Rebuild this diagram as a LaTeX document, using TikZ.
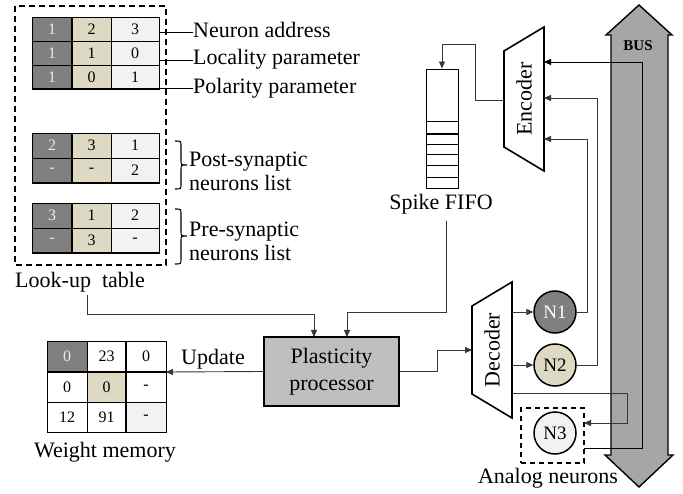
\documentclass[tikz,border=0pt]{standalone}
\usepackage{fontspec}
\setmainfont{Liberation Serif}
\usetikzlibrary{arrows.meta}
\definecolor{cdark}{RGB}{127,127,127}
\definecolor{cbeige}{RGB}{221,217,195}
\definecolor{clight}{RGB}{242,242,242}
\definecolor{cproc}{RGB}{191,191,191}
\definecolor{cbus}{RGB}{166,166,166}
\definecolor{cwire}{RGB}{55,55,55}
\definecolor{cpale}{RGB}{235,235,235}
\begin{document}
\begin{tikzpicture}[x=1pt,y=-1pt,
  lbl/.style={font=\fontsize{22}{25}\selectfont, inner sep=0pt, align=center},
  lbll/.style={font=\fontsize{22}{24}\selectfont, inner sep=0pt, align=left, anchor=west},
  num/.style={font=\fontsize{16}{18}\selectfont, inner sep=0pt},
  numw/.style={num, text=cpale},
  grid/.style={draw=black, line width=0.7pt},
  bold/.style={draw=black, line width=1.6pt},
  wire/.style={draw=cwire, line width=0.9pt},
  arr/.style={wire, -{Triangle[length=7pt,width=6pt]}},
  neuron/.style={circle, draw=black, line width=1.5pt, minimum size=42pt, inner sep=0pt, font=\fontsize{19}{20}\selectfont},
  dashbox/.style={draw=black, line width=1.5pt, dash pattern=on 6pt off 4pt}
]
\useasboundingbox (0,0) rectangle (683,494);

% ---------------- Look-up table ----------------
\draw[dashbox] (15,6) rectangle (166,265);
% table 1
\fill[cdark] (32,17) rectangle (72,89);
\fill[cbeige] (72,17) rectangle (111,89);
\fill[clight] (111,17) rectangle (159,89);
\draw[grid] (32,17) rectangle (159,89);
\draw[grid] (32,41) -- (159,41) (32,65) -- (159,65) (111,17) -- (111,89);
\draw[bold] (72,17) -- (72,89) (32,89) -- (159,89);
\foreach \y/\a/\b/\c/\n in {29/1/2/3/a, 53/1/1/0/b, 77/1/0/1/c}{
  \node[numw] (ta\n) at (52,\y) {\a};
  \node[num] (tb\n) at (91.5,\y) {\b};
  \node[num] (tc\n) at (135,\y) {\c};
}
% table 2
\fill[cdark] (32,133) rectangle (72,183);
\fill[cbeige] (72,133) rectangle (111,183);
\fill[clight] (111,133) rectangle (159,183);
\draw[grid] (32,133) rectangle (159,183);
\draw[grid] (32,158) -- (159,158) (111,133) -- (111,183);
\draw[bold] (72,133) -- (72,183) (32,183) -- (159,183);
\foreach \y/\a/\b/\c/\n in {145.5/2/3/1/a, 170.5/-/-/2/b}{
  \node[numw] (ua\n) at (52,\y) {\a};
  \node[num] (ub\n) at (91.5,\y) {\b};
  \node[num] (uc\n) at (135,\y) {\c};
}
% table 3
\fill[cdark] (32,203) rectangle (72,253);
\fill[cbeige] (72,203) rectangle (111,253);
\fill[clight] (111,203) rectangle (159,253);
\draw[grid] (32,203) rectangle (159,253);
\draw[grid] (32,228) -- (159,228) (111,203) -- (111,253);
\draw[bold] (72,203) -- (72,253) (32,253) -- (159,253);
\foreach \y/\a/\b/\c/\n in {215.5/3/1/2/a, 240.5/-/3/-/b}{
  \node[numw] (va\n) at (52,\y) {\a};
  \node[num] (vb\n) at (91.5,\y) {\b};
  \node[num] (vc\n) at (135,\y) {\c};
}
% labels of table 1
\node[lbll] (naddr) at (193,30) {Neuron address};
\node[lbll] (nloc) at (193,59) {Locality parameter};
\node[lbll] (npol) at (193,88) {Polarity parameter};
\draw[wire, draw=black] (159,32) -- (naddr.west |- 0,32);
\draw[wire, draw=black] (159,60) -- (nloc.west |- 0,60);
\draw[wire, draw=black] (159,88) -- (npol.west |- 0,88);
% braces
\draw[line width=1.1pt] (175,141) .. controls (181,141) .. (181,146) -- (181,160) .. controls (181,165) .. (187,165)
   .. controls (181,165) .. (181,170) -- (181,184) .. controls (181,189) .. (175,189);
\node[lbll] (npost) at (189,171) {Post-synaptic\\neurons list};
\draw[line width=1.1pt] (175,209) .. controls (181,209) .. (181,214) -- (181,231) .. controls (181,236) .. (187,236)
   .. controls (181,236) .. (181,241) -- (181,259) .. controls (181,264) .. (175,264);
\node[lbll] (npre) at (189,241) {Pre-synaptic\\neurons list};
\node[lbl] (lut) at (80,282) {Look-up\ \ table};
\coordinate (lutout) at (87,295);

% ---------------- Weight memory ----------------
\fill[cdark] (47,341) rectangle (87,372);
\fill[cbeige] (87,372) rectangle (126,402);
\fill[clight] (126,402) rectangle (166,432);
\draw[grid] (47,341) rectangle (166,432);
\draw[grid] (87,341) -- (87,432) (47,402) -- (166,402);
\draw[bold] (126,341) -- (126,432) (47,372) -- (166,372);
\node[numw] (w11) at (67,356.5) {0};
\node[num] (w12) at (106.5,356.5) {23};
\node[num] (w13) at (146,356.5) {0};
\node[num] (w21) at (67,387) {0};
\node[num] (w22) at (106.5,387) {0};
\node[num] (w23) at (146,387) {-};
\node[num] (w31) at (67,417) {12};
\node[num] (w32) at (106.5,417) {91};
\node[num] (w33) at (146,417) {-};
\node[lbl] (wm) at (105,452) {Weight memory};
\coordinate (wmin) at (166,372);

% ---------------- Plasticity processor ----------------
\node[draw=black, line width=1.6pt, fill=cproc, minimum width=135pt, minimum height=69pt,
      inner sep=0pt, align=center, font=\fontsize{22}{27}\selectfont] (proc) at (331.5,371.5) {Plasticity\\processor};
\coordinate (procin1) at (314,337);
\coordinate (procin2) at (347,337);
\node[lbl] (upd) at (213,359) {Update};

% ---------------- Spike FIFO ----------------
\node[draw=black, line width=0.9pt, minimum width=32pt, minimum height=119pt, inner sep=0pt] (fifo) at (442,128.5) {};
\draw[line width=0.8pt] (426,121) -- (458,121) (426,144) -- (458,144) (426,154) -- (458,154)
   (426,165) -- (458,165) (426,177) -- (458,177);
\draw[line width=1.6pt] (426,134) -- (458,134);
\node[lbl] (fifolbl) at (441,204) {Spike FIFO};
\coordinate (fifoout) at (446,221);

% ---------------- Bus ----------------
\filldraw[fill=cbus, draw=black, line width=1.4pt] (611,35) -- (606,35) -- (639,5) -- (672,35) -- (668,35)
  -- (668,455) -- (673,455) -- (639,487) -- (605,455) -- (611,455) -- cycle;
\node[inner sep=0pt, font=\fontsize{15}{16}\selectfont\bfseries] (bus) at (638,46) {BUS};

% ---------------- Encoder / Decoder ----------------
\draw[bold, fill=white] (504,51) -- (544,27) -- (544,171) -- (504,147) -- cycle;
\node[lbl, rotate=90] (enc) at (524,99) {Encoder};
\coordinate (encout) at (504,100);
\coordinate (encin1) at (544,62);
\coordinate (encin2) at (544,98);
\coordinate (encin3) at (544,139);

\draw[bold, fill=white] (472,306) -- (512,282) -- (512,418) -- (472,394) -- cycle;
\node[lbl, rotate=90] (dec) at (492,350) {Decoder};
\coordinate (decin) at (472,350);
\coordinate (decout1) at (512,312);
\coordinate (decout2) at (512,365);
\coordinate (decout3) at (512,393);

% ---------------- Neurons ----------------
\node[neuron, fill=cdark, text=white] (N1) at (555,312) {N1};
\node[neuron, fill=cbeige] (N2) at (555,365) {N2};
\node[neuron, fill=clight] (N3) at (555,433) {N3};
\node[dashbox, dash pattern=on 5pt off 4pt, minimum width=63pt, minimum height=55pt, inner sep=0pt] (n3box) at (552.5,435.5) {};
\node[lbl] (analog) at (548,478) {Analog neurons};
\coordinate (n3in) at (584,423);
\coordinate (n3out) at (584,448);

% ---------------- Connectors ----------------
\draw[arr] (lutout) |- (314,314) -- (procin1);
\draw[arr] (fifoout) |- (347,312) -- (procin2);
\draw[arr] (proc.east) -- (437,371.5) |- (decin);
\draw[arr] (proc.west) -- (wmin);
\draw[arr] (encout) -- (475,100) |- (442,44) -- (fifo.north);
\draw[arr] (decout1) -- (N1.west);
\draw[arr] (decout2) -- (N2.west);
\draw[arr] (decout3) -- (627,393) |- (n3in);
\draw[arr] (N1.east) -| (587,139) -- (encin3);
\draw[arr] (N2.east) -| (597,98) -- (encin2);
\draw[arr, draw=black] (n3out) -- (642,448) |- (encin1);
\end{tikzpicture}
\end{document}
